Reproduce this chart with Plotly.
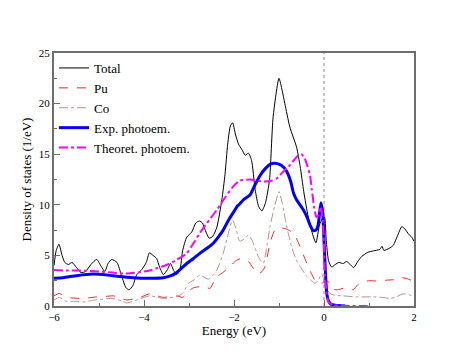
import plotly.graph_objects as go

# Energy (eV) / density of states (1/eV)
e_total = [-6.0, -5.95, -5.89, -5.82, -5.76, -5.68, -5.6, -5.5, -5.4, -5.3, -5.18, -5.05, -4.95, -4.87,
           -4.8, -4.72, -4.6, -4.5, -4.4, -4.33, -4.25, -4.16, -4.05, -3.95, -3.88, -3.8, -3.72, -3.65,
           -3.57, -3.48, -3.41, -3.34, -3.27, -3.2, -3.14, -3.05, -2.94, -2.85, -2.77, -2.7, -2.64, -2.55,
           -2.47, -2.38, -2.27, -2.2, -2.14, -2.08, -2.03, -1.97, -1.9, -1.83, -1.75, -1.68, -1.61, -1.53,
           -1.45, -1.38, -1.3, -1.21, -1.13, -1.0, -0.93, -0.87, -0.76, -0.61, -0.53, -0.45, -0.35, -0.24,
           -0.18, -0.1, -0.03, 0.01, 0.05, 0.1, 0.17, 0.25, 0.33, 0.43, 0.5, 0.56, 0.66, 0.75, 0.84, 0.97,
           1.1, 1.24, 1.29, 1.33, 1.45, 1.54, 1.63, 1.73, 1.8, 1.88, 1.95, 2.0]
d_total = [4.0, 5.5, 6.1, 5.0, 4.3, 4.1, 4.3, 3.8, 3.3, 3.4, 4.1, 4.6, 3.9, 3.4,
           4.2, 4.6, 4.3, 3.0, 1.8, 1.6, 2.0, 3.1, 3.6, 4.3, 5.25, 5.0, 4.7, 3.8,
           3.1, 3.6, 4.2, 3.5, 3.1, 3.6, 5.5, 6.8, 7.3, 8.2, 8.4, 8.2, 7.5, 6.7,
           6.9, 7.8, 10.5, 13.0, 16.0, 17.8, 18.1, 17.0, 16.0, 15.5, 14.9, 15.1, 14.4, 11.5,
           9.8, 9.4, 10.2, 12.5, 18.7, 22.5, 21.3, 20.0, 17.7, 15.7, 13.8, 11.3, 8.8, 6.9,
           6.25, 8.0, 8.7, 8.8, 6.5, 4.5, 3.85, 4.1, 4.3, 4.2, 4.4, 4.2, 3.8, 4.4, 4.9, 5.3,
           5.45, 5.6, 5.9, 5.5, 5.7, 6.0, 6.9, 7.85, 7.6, 7.1, 6.8, 6.4]

e_pu = [-6.0, -5.88, -5.76, -5.6, -5.35, -5.05, -4.85, -4.68, -4.5, -4.38, -4.16, -4.0, -3.87, -3.7,
        -3.57, -3.4, -3.27, -3.14, -3.0, -2.9, -2.76, -2.6, -2.53, -2.45, -2.38, -2.25, -2.09, -1.95,
        -1.83, -1.68, -1.55, -1.46, -1.38, -1.31, -1.2, -1.09, -0.95, -0.83, -0.68, -0.53, -0.38, -0.28,
        -0.2, -0.1, -0.05, 0.05, 0.1, 0.15, 0.21, 0.3, 0.43, 0.55, 0.65, 0.75, 0.87, 1.02, 1.24, 1.39,
        1.55, 1.73, 1.85, 2.0]
d_pu = [1.0, 1.25, 0.9, 0.8, 0.75, 0.9, 0.95, 1.0, 0.75, 0.6, 0.75, 1.0, 1.2, 1.0,
        0.85, 0.95, 1.0, 0.85, 1.5, 1.8, 1.9, 1.8, 1.75, 2.4, 2.9, 3.3, 3.9, 4.5,
        4.7, 4.4, 3.6, 3.2, 3.4, 3.9, 6.2, 7.5, 7.7, 7.6, 7.2, 5.85, 4.2, 3.2,
        2.55, 2.2, 2.25, 2.5, 2.4, 1.9, 1.65, 1.6, 1.75, 1.7, 1.6, 2.1, 2.4, 2.5, 2.45, 2.55,
        2.6, 2.8, 2.7, 2.4]

e_co = [-6.0, -5.88, -5.75, -5.55, -5.35, -5.15, -4.98, -4.68, -4.5, -4.38, -4.16, -3.87, -3.57, -3.27,
        -3.14, -3.01, -2.88, -2.76, -2.57, -2.45, -2.38, -2.24, -2.12, -2.03, -1.95, -1.87, -1.78, -1.68,
        -1.6, -1.53, -1.45, -1.35, -1.28, -1.2, -1.1, -1.0, -0.93, -0.87, -0.8, -0.72, -0.62, -0.53,
        -0.38, -0.28, -0.2, -0.12, -0.05, 0.02, 0.08, 0.13, 0.25, 0.43, 0.73, 1.1, 1.3, 1.47, 1.6,
        1.76, 1.9, 2.0]
d_co = [0.6, 0.85, 0.5, 0.45, 0.4, 0.55, 0.65, 0.75, 0.5, 0.3, 0.6, 1.0, 0.75, 0.95,
        1.25, 2.25, 2.6, 3.05, 2.65, 3.1, 3.55, 5.2, 7.3, 8.5, 7.5, 6.4, 6.6, 7.0,
        6.5, 5.7, 4.8, 4.2, 5.6, 7.85, 9.8, 11.3, 10.2, 8.8, 7.3, 5.85, 4.6, 3.9,
        2.9, 2.5, 2.25, 2.6, 3.2, 2.05, 1.5, 1.25, 1.05, 1.0, 0.9, 0.9, 0.85, 0.75, 0.9,
        1.2, 1.1, 0.95]

e_exp = [-6.0, -5.8, -5.5, -5.13, -4.8, -4.6, -4.24, -3.9, -3.57, -3.4, -3.31, -3.2, -3.05, -2.9,
         -2.76, -2.6, -2.46, -2.35, -2.24, -2.12, -2.02, -1.92, -1.87, -1.79, -1.64, -1.53, -1.42,
         -1.3, -1.2, -1.09, -0.95, -0.83, -0.74, -0.68, -0.61, -0.46, -0.38, -0.31, -0.24, -0.18,
         -0.13, -0.07, -0.03, 0.0, 0.03, 0.06, 0.1, 0.15, 0.25, 0.47]
d_exp = [2.75, 2.8, 3.0, 3.15, 3.05, 2.95, 2.8, 2.75, 2.8, 3.0, 3.2, 3.6, 4.2, 4.7,
         5.2, 5.7, 6.2, 6.8, 7.5, 8.5, 9.2, 9.9, 10.1, 10.5, 11.0, 12.0, 12.9,
         13.6, 14.0, 14.1, 13.9, 13.3, 12.3, 11.2, 10.5, 9.5, 8.8, 8.0, 7.45, 7.5,
         8.0, 10.2, 9.3, 6.5, 3.5, 1.3, 0.5, 0.2, 0.08, 0.0]

e_theo = [-6.0, -5.7, -5.4, -5.0, -4.7, -4.4, -4.0, -3.87, -3.7, -3.5, -3.3, -3.05, -2.9, -2.76,
          -2.6, -2.38, -2.2, -2.02, -1.87, -1.64, -1.45, -1.3, -1.15, -1.05, -0.9, -0.76, -0.65,
          -0.57, -0.5, -0.43, -0.38, -0.31, -0.27, -0.22, -0.17, -0.12, -0.07, -0.03, 0.0, 0.02,
          0.06, 0.1, 0.2, 0.4, 1.0]
d_theo = [3.55, 3.5, 3.5, 3.4, 3.3, 3.2, 3.4, 3.5, 3.75, 4.05, 4.5, 5.2, 6.2, 7.2,
          8.2, 9.5, 10.7, 11.8, 12.4, 12.5, 12.35, 12.3, 12.4, 12.6, 13.3, 13.9, 14.5,
          14.9, 15.0, 14.6, 14.0, 12.9, 11.5, 9.8, 8.8, 9.0, 9.8, 8.5, 6.0, 3.0,
          1.2, 0.4, 0.1, 0.02, 0.0]

serif = "Liberation Serif, Times New Roman, serif"

fig = go.Figure()
fig.add_trace(go.Scatter(x=e_total, y=d_total, name="Total", mode="lines",
                         line=dict(color="black", width=1, shape="spline", smoothing=0.6)))
fig.add_trace(go.Scatter(x=e_pu, y=d_pu, name="Pu", mode="lines",
                         line=dict(color="#ff2020", width=1, dash="dash", shape="spline", smoothing=0.6)))
fig.add_trace(go.Scatter(x=e_co, y=d_co, name="Co", mode="lines",
                         line=dict(color="#bc8f8f", width=1, dash="dashdot", shape="spline", smoothing=0.6)))
fig.add_trace(go.Scatter(x=e_exp, y=d_exp, name="Exp. photoem.", mode="lines",
                         line=dict(color="#0000ff", width=3, shape="spline", smoothing=0.5)))
fig.add_trace(go.Scatter(x=e_theo, y=d_theo, name="Theoret. photoem.", mode="lines",
                         line=dict(color="#ff00ff", width=2, dash="dashdot", shape="spline", smoothing=0.5)))

# Fermi level
fig.add_vline(x=0, line=dict(color="#888888", width=1, dash="dot"), layer="below")

axis_common = dict(showline=True, linecolor="#6e6e6e", linewidth=2, mirror=True,
                   ticks="inside", ticklen=6, tickcolor="#6e6e6e", tickwidth=1,
                   showgrid=False, zeroline=False, automargin=False,
                   tickfont=dict(family=serif, size=11, color="black"))

fig.update_xaxes(range=[-6, 2], dtick=2, tick0=-6,
                 minor=dict(ticks="inside", ticklen=3, dtick=1, tickcolor="#6e6e6e", showgrid=False),
                 title=dict(text="Energy (eV)", font=dict(family=serif, size=13, color="black"), standoff=0),
                 **axis_common)
fig.update_yaxes(range=[0, 25], dtick=5,
                 minor=dict(ticks="inside", ticklen=3, dtick=2.5, tickcolor="#6e6e6e", showgrid=False),
                 title=dict(text="Density of states (1/eV)", font=dict(family=serif, size=13, color="black"),
                            standoff=4),
                 **axis_common)

# the page body adds an 8px offset, so the figure is a little smaller than the window
fig.update_layout(
    width=458, height=352,
    margin=dict(l=46, r=52, t=45, b=54),
    plot_bgcolor="white", paper_bgcolor="white",
    font=dict(family=serif, color="black"),
    legend=dict(x=0.0, y=1.0, xanchor="left", yanchor="top", bgcolor="rgba(0,0,0,0)",
                font=dict(family=serif, size=13, color="black"), itemwidth=30, tracegroupgap=0),
)

fig.write_html("out.html")
